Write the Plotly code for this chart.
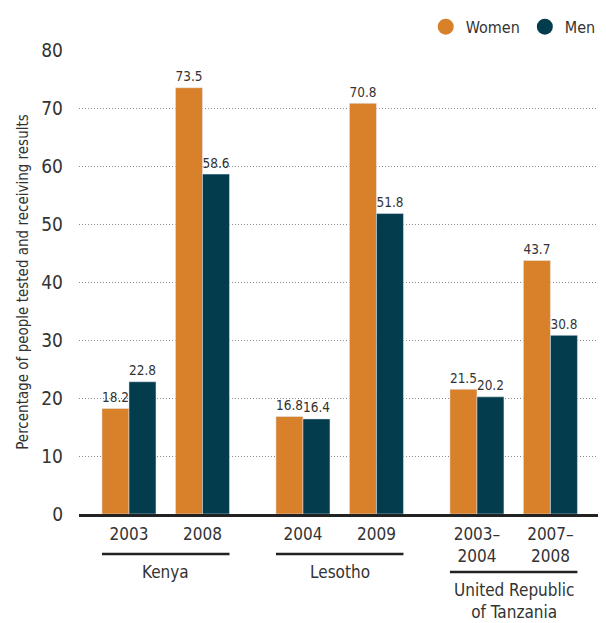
import plotly.graph_objects as go

# data
countries = ["Kenya", "Lesotho", "United Republic<br>of Tanzania"]
years = [["2003", "2008"], ["2004", "2009"], ["2003–<br>2004", "2007–<br>2008"]]
women = [18.2, 73.5, 16.8, 70.8, 21.5, 43.7]
men = [22.8, 58.6, 16.4, 51.8, 20.2, 30.8]

ORANGE = "#D8802A"
TEAL = "#033C4C"
TEXT = "#333333"
FONT = "DejaVu Sans Condensed, Liberation Sans Narrow, sans-serif"

GROUP_GAP = 0.367   # extra space between country groups (in slot units)
BARGAP = 0.265

# x position of each survey, two per country with a gap between countries
xpos = []
ticktext = []
for g, yrs in enumerate(years):
    for i, yr in enumerate(yrs):
        xpos.append(g * (len(yrs) + GROUP_GAP) + i)
        ticktext.append(yr)

fig = go.Figure()

fig.add_trace(go.Bar(
    x=xpos, y=women, name="Women", marker_color=ORANGE,
    texttemplate="%{y:.1f}", textposition="outside",
    textfont=dict(size=15, color=TEXT, family=FONT),
    cliponaxis=False, showlegend=False
))
fig.add_trace(go.Bar(
    x=xpos, y=men, name="Men", marker_color=TEAL,
    texttemplate="%{y:.1f}", textposition="outside",
    textfont=dict(size=15, color=TEXT, family=FONT),
    cliponaxis=False, showlegend=False
))

# legend entries drawn as circles
fig.add_trace(go.Scatter(x=[None], y=[None], mode="markers", name="Women",
                         marker=dict(symbol="circle", size=20, color=ORANGE)))
fig.add_trace(go.Scatter(x=[None], y=[None], mode="markers", name="Men",
                         marker=dict(symbol="circle", size=20, color=TEAL)))

# underline + country name below each group of years
half = (1 - BARGAP) / 2
shapes = []
annotations = []
for g, name in enumerate(countries):
    x0 = xpos[2 * g] - half
    x1 = xpos[2 * g + 1] + half
    two_line = "<br>" in years[g][0]
    line_y = -0.125 if two_line else -0.0862
    shapes.append(dict(type="line", xref="x", yref="paper",
                       x0=x0, x1=x1, y0=line_y, y1=line_y,
                       line=dict(color="#222222", width=2.5)))
    annotations.append(dict(text=name, xref="x", yref="paper",
                            x=(x0 + x1) / 2, y=line_y - 0.012,
                            xanchor="center", yanchor="top", showarrow=False,
                            font=dict(size=17, color=TEXT, family=FONT)))

# page body has an 8px margin, so the figure is sized/offset to compensate
fig.update_layout(
    width=598, height=615,
    margin=dict(l=71, r=0, t=42, b=109),
    paper_bgcolor="white", plot_bgcolor="white",
    barmode="group", bargap=BARGAP, bargroupgap=0,
    font=dict(family=FONT, color=TEXT),
    shapes=shapes, annotations=annotations,
    legend=dict(orientation="h", x=0.99, xanchor="right", y=1.05, yanchor="middle",
                font=dict(size=16, color=TEXT, family=FONT),
                itemsizing="trace", bgcolor="rgba(0,0,0,0)"),
    xaxis=dict(range=[-0.680, 6.490], tickmode="array", tickvals=xpos,
               ticktext=ticktext, showgrid=False, zeroline=False,
               showline=True, linecolor="#222222", linewidth=2.5,
               ticks="", ticklabelstandoff=3,
               tickfont=dict(size=17, color=TEXT, family=FONT)),
    yaxis=dict(range=[0, 80], tickmode="array", tickvals=list(range(0, 81, 10)),
               showgrid=True, gridcolor="#8a8a8a", gridwidth=1, griddash="1px,2px",
               zeroline=False, ticks="", ticklabelstandoff=15,
               tickfont=dict(size=19, color=TEXT, family=FONT),
               title=dict(text="Percentage of people tested and receiving results",
                          font=dict(size=15, color=TEXT, family=FONT), standoff=9)),
)

fig.write_html("out.html")
